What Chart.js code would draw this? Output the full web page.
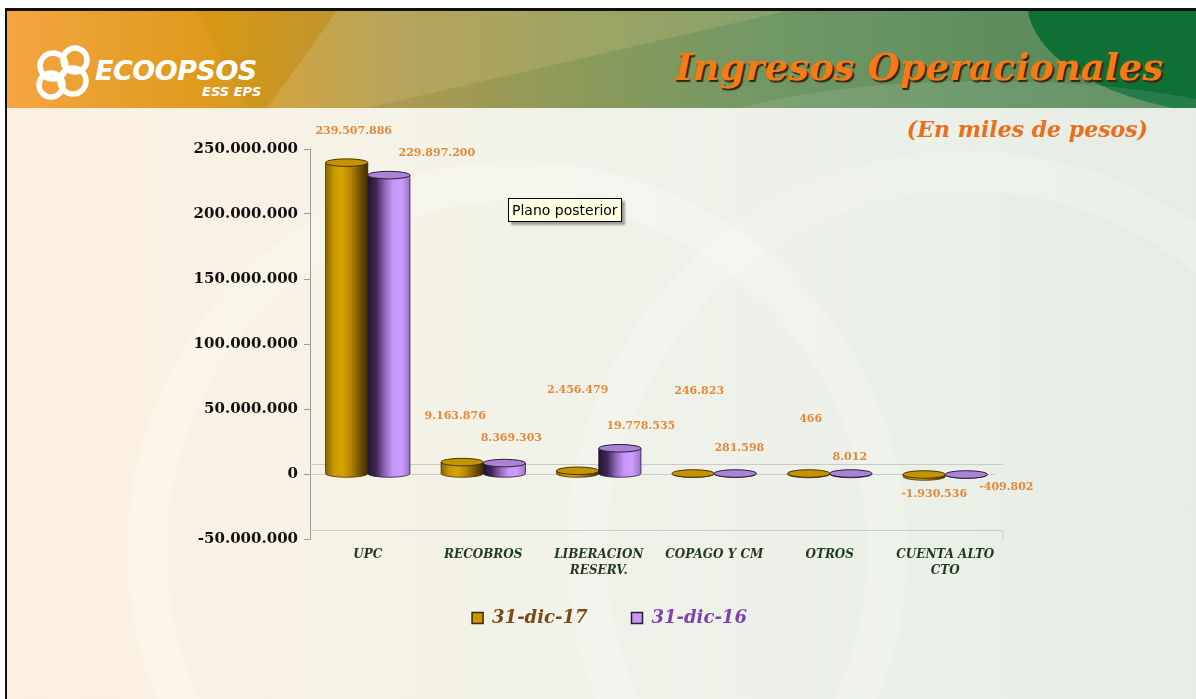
<!DOCTYPE html>
<html>
<head>
<meta charset="utf-8">
<title>Ingresos Operacionales</title>
<script src="https://cdn.jsdelivr.net/npm/chart.js@4.4.0/dist/chart.umd.min.js"></script>
<style>
  html, body { margin: 0; padding: 0; background: #fff; overflow: hidden; }
  #slide {
    position: absolute; left: 5px; top: 8px; width: 1189px; height: 691px;
    border-left: 2px solid #111; border-top: 3px solid #111; overflow: hidden;
    background: linear-gradient(90deg, #fcf0e0 0%, #f7f2e6 25%, #eff2e9 55%, #e6ede6 100%);
  }
  .swirl { position: absolute; border-radius: 50%; border: 40px solid rgba(255,255,255,0.22); }
  #header { position: absolute; left: 0; top: 0; width: 1189px; height: 97px; }
  #title {
    position: absolute; right: 33px; top: 38px; margin: 0;
    font: italic bold 37px/37px "DejaVu Serif", serif; color: #f57a18;
    text-shadow: 2px 2px 1px #35260c;
  }
  #subtitle {
    position: absolute; right: 48px; top: 107px;
    font: italic bold 22px/22px "DejaVu Serif", serif; color: #e8701c;
  }
  #brand {
    position: absolute; left: 88px; top: 46px;
    font: italic bold 27px/27px "DejaVu Sans", sans-serif; color: #fff; letter-spacing: -0.5px;
  }
  #brand2 {
    position: absolute; left: 195px; top: 74px;
    font: italic bold 13px/13px "DejaVu Sans", sans-serif; color: #fff;
  }
  #tip {
    position: absolute; left: 501px; top: 187px; padding: 2px 3px;
    background: #ffffe1; border: 1px solid #000; box-shadow: 3px 3px 2px rgba(0,0,0,0.35);
    font: 14px/18px "DejaVu Sans", sans-serif; color: #000;
  }
  #chartBox { position: absolute; left: 173px; top: 114px; width: 870px; height: 522px; }
</style>
</head>
<body>
<div id="slide">
  <div class="swirl" style="left:120px; top:150px; width:700px; height:700px;"></div>
  <div class="swirl" style="left:560px; top:140px; width:720px; height:720px; border-color: rgba(255,255,255,0.18);"></div>
  <svg id="header" width="1189" height="97" viewBox="0 0 1189 97">
    <defs>
      <linearGradient id="hg" x1="0" y1="0" x2="1" y2="0">
        <stop offset="0" stop-color="#f4a541"/>
        <stop offset="0.17" stop-color="#de9a1c"/>
        <stop offset="0.32" stop-color="#ad9a50"/>
        <stop offset="0.48" stop-color="#8c9a5a"/>
        <stop offset="0.65" stop-color="#709766"/>
        <stop offset="0.85" stop-color="#5d8d5d"/>
        <stop offset="1" stop-color="#4f8756"/>
      </linearGradient>
    </defs>
    <rect x="0" y="0" width="1189" height="97" fill="url(#hg)"/>
    <polygon points="330,0 780,0 360,97 260,97" fill="#f0d090" opacity="0.18"/>
    <polygon points="190,0 330,0 260,97 240,97" fill="#c88a00" opacity="0.25"/>
    <ellipse cx="1250" cy="-10" rx="230" ry="115" fill="#0f6f35"/>
    <ellipse cx="980" cy="150" rx="330" ry="80" fill="#ffffff" opacity="0.10"/>
    <g fill="none" stroke="#fff" stroke-width="5.5">
      <circle cx="46" cy="55" r="13"/>
      <circle cx="68" cy="49" r="12"/>
      <circle cx="44" cy="74" r="12"/>
      <circle cx="66" cy="70" r="13"/>
    </g>
  </svg>
  <div id="brand">ECOOPSOS</div>
  <div id="brand2">ESS EPS</div>
  <div id="title">Ingresos Operacionales</div>
  <div id="subtitle">(En miles de pesos)</div>
  <div id="chartBox"><canvas id="myChart"></canvas></div>
  <div id="tip">Plano posterior</div>
</div>
<script>
// values in thousands of pesos
const categories = ['UPC', 'RECOBROS', ['LIBERACION', 'RESERV.'], 'COPAGO Y CM', 'OTROS', ['CUENTA ALTO', 'CTO']];
const seriesNames = ['31-dic-17', '31-dic-16'];
const dic17 = [239507886, 9163876, 2456479, 246823, 466, -1930536];
const dic16 = [229897200, 8369303, 19778535, 281598, 8012, -409802];
const yMin = -50000000;
const yMax = 250000000;
const yStep = 50000000;

// 250000000 -> 250.000.000
function fmt(v) {
    const s = Math.abs(v).toString().replace(/\B(?=(\d{3})+(?!\d))/g, '.');
    return (v < 0 ? '-' : '') + s;
}

// cylinder look for each bar, drawn on top of the plain bar
const cylinders = {
    id: 'cylinders',
    beforeDatasetsDraw(chart) {
        const c = chart.ctx;
        const a = chart.chartArea;
        const y0 = chart.scales.y.getPixelForValue(0);
        c.save();
        c.strokeStyle = '#c9cdc6';
        c.lineWidth = 1;
        c.beginPath();
        c.moveTo(a.left, y0 - 9.5); c.lineTo(a.right, y0 - 9.5);
        c.moveTo(a.left, y0 + 0.5); c.lineTo(a.right - 8, y0 + 0.5);
        c.moveTo(a.left, a.bottom - 8.5); c.lineTo(a.right, a.bottom - 8.5);
        c.lineTo(a.right, a.bottom);
        c.stroke();
        c.restore();
    },
    afterDatasetsDraw(chart, args, opts) {
        const c = chart.ctx;
        chart.data.datasets.forEach((ds, di) => {
            const meta = chart.getDatasetMeta(di);
            if (meta.hidden) return;
            const shade = opts.shades[di];
            meta.data.forEach(bar => {
                const { x, y, base, width } = bar.getProps(['x', 'y', 'base', 'width'], true);
                const left = x - width / 2, right = x + width / 2;
                const top = Math.min(y, base), bottom = Math.max(y, base);
                const ry = width * 0.09;
                const g = c.createLinearGradient(left, 0, right, 0);
                shade.body.forEach((col, i) => g.addColorStop(i / (shade.body.length - 1), col));
                c.save();
                c.beginPath();
                c.moveTo(left, top);
                c.lineTo(left, bottom);
                c.ellipse(x, bottom, width / 2, ry, 0, Math.PI, 0, true);
                c.lineTo(right, top);
                c.closePath();
                c.fillStyle = g;
                c.fill();
                c.strokeStyle = shade.edge;
                c.lineWidth = 0.8;
                c.stroke();
                c.beginPath();
                c.ellipse(x, top, width / 2, ry, 0, 0, Math.PI * 2);
                c.fillStyle = shade.cap;
                c.fill();
                c.strokeStyle = shade.edge;
                c.lineWidth = 1;
                c.stroke();
                c.restore();
            });
        });
    }
};

// orange value labels next to each cylinder
const valueLabels = {
    id: 'valueLabels',
    afterDatasetsDraw(chart, args, opts) {
        const c = chart.ctx;
        c.save();
        c.font = opts.font;
        c.fillStyle = opts.color;
        c.textAlign = 'center';
        c.textBaseline = 'middle';
        chart.data.datasets.forEach((ds, di) => {
            const meta = chart.getDatasetMeta(di);
            meta.data.forEach((bar, i) => {
                const [dx, dy] = opts.shift[di][i];
                c.fillText(fmt(ds.data[i]), bar.x + dx, bar.y + dy);
            });
        });
        c.restore();
    }
};

// the slide's legend sits a bit right of the plot centre and close under the labels
const legendNudge = {
    id: 'legendNudge',
    afterLayout(chart, args, opts) {
        const lg = chart.legend;
        if (!lg) return;
        lg.left += opts.dx; lg.right += opts.dx;
        lg.top += opts.dy; lg.bottom += opts.dy;
    }
};

function init() {
    const data = {
        labels: categories,
        datasets: [
            { label: seriesNames[0], data: dic17, backgroundColor: '#c99600', borderColor: '#3a2a00' },
            { label: seriesNames[1], data: dic16, backgroundColor: '#c49af0', borderColor: '#2a1a3a' }
        ]
    };

    const legendText = ['#7a4a1c', '#7d44b0'];

    const config = {
        type: 'bar',
        data: data,
        plugins: [cylinders, valueLabels, legendNudge],
        options: {
            responsive: true,
            maintainAspectRatio: false,
            animation: false,
            layout: { padding: { left: 0, right: 47, top: 24, bottom: 0 } },
            datasets: { bar: { categoryPercentage: 0.73, barPercentage: 1, borderWidth: 0 } },
            scales: {
                x: {
                    grid: { display: false },
                    border: { display: false },
                    ticks: {
                        color: '#1f3a1f',
                        font: { family: 'DejaVu Serif', size: 12, weight: 'bold', style: 'italic', lineHeight: 1.3 },
                        padding: 0,
                        maxRotation: 0,
                        autoSkip: false
                    },
                    afterFit: (scale) => { scale.height = 36; }
                },
                y: {
                    min: yMin,
                    max: yMax,
                    grid: { drawOnChartArea: false, drawTicks: true, tickLength: 6, color: '#9a9a9a' },
                    border: { color: '#9a9a9a' },
                    ticks: {
                        stepSize: yStep,
                        color: '#111',
                        padding: 6,
                        font: { family: 'DejaVu Serif', size: 15, weight: 'bold' },
                        callback: (v) => fmt(v)
                    },
                    afterFit: (scale) => { scale.width = 130; }
                }
            },
            plugins: {
                tooltip: { enabled: false },
                legend: {
                    position: 'bottom',
                    labels: {
                        boxWidth: 11,
                        boxHeight: 11,
                        padding: 44,
                        font: { family: 'DejaVu Serif', size: 18, weight: 'bold', style: 'italic' },
                        generateLabels: (chart) => chart.data.datasets.map((ds, i) => ({
                            text: ds.label,
                            fillStyle: ds.backgroundColor,
                            strokeStyle: ds.borderColor,
                            lineWidth: 1.5,
                            fontColor: legendText[i],
                            datasetIndex: i
                        }))
                    }
                },
                legendNudge: { dx: 18, dy: -10 },
                cylinders: {
                    shades: [
                        { body: ['#8a6400', '#c99a00', '#d6a400', '#b38400', '#7a5600', '#3e2a00'], cap: '#c29400', edge: '#4a3400' },
                        { body: ['#24142f', '#3e2654', '#8d66b8', '#c796f8', '#cc9cff', '#9a74c4'], cap: '#a983d4', edge: '#2c1c3a' }
                    ]
                },
                valueLabels: {
                    font: 'bold 11px "DejaVu Serif"',
                    color: '#e5893a',
                    shift: [
                        [[7, -31], [-7, -46], [0, -81], [6, -83], [2, -55], [10, 18]],
                        [[48, -22], [7, -25], [21, -22], [4, -25], [-1, -17], [40, 13]]
                    ]
                }
            }
        }
    };

    new Chart(document.getElementById('myChart'), config);
}

window.onload = init;
</script>
</body>
</html>
